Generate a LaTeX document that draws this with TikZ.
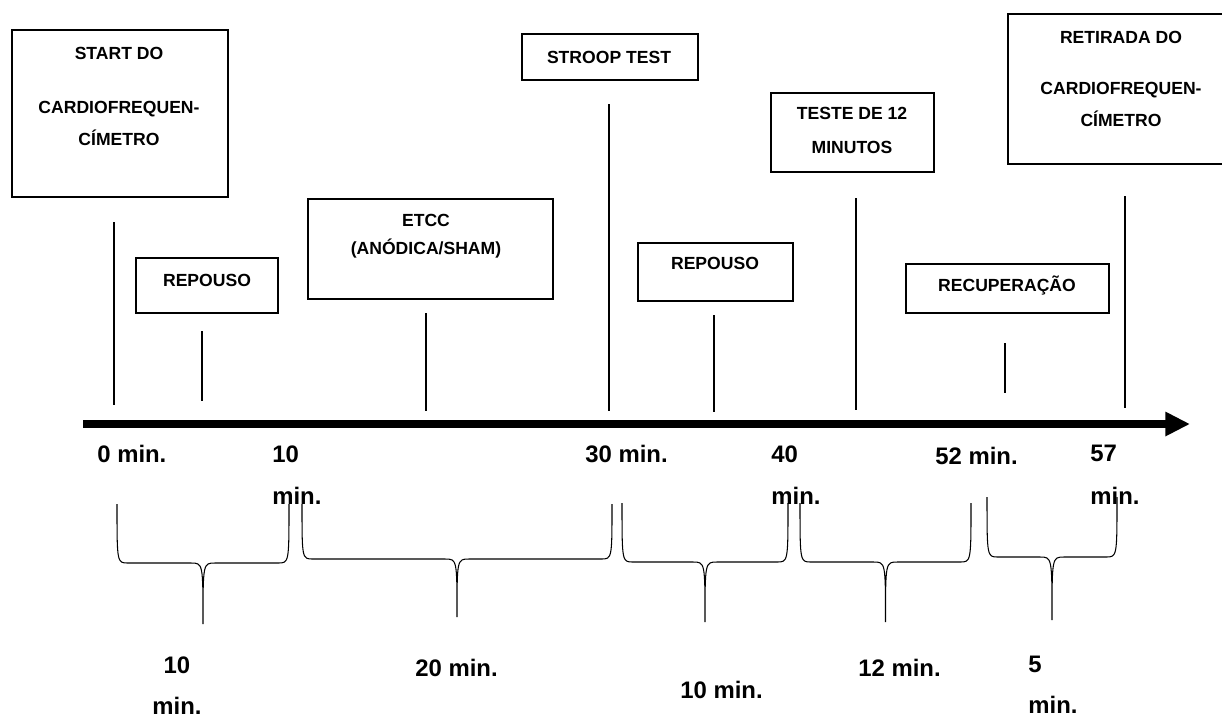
\documentclass[tikz,border=0pt]{standalone}
\usepackage{fontspec}
\setmainfont{Liberation Sans}
\usetikzlibrary{arrows.meta}
\tikzstyle{box} = [rectangle, draw=black, line width=1.1pt, inner sep=0pt, anchor=north west]
\tikzstyle{txt} = [inner sep=0pt, align=center, font=\fontsize{10}{18}\selectfont\bfseries]
\tikzstyle{tlabel} = [inner sep=0pt, font=\fontsize{13.6}{24.4}\selectfont\bfseries]
\tikzstyle{stem} = [line width=0.7pt]
\tikzstyle{brace} = [line width=0.6pt]
\tikzstyle{axis} = [line width=4.5pt, -{Triangle[length=14pt,width=13pt]}]

\begin{document}
\begin{tikzpicture}[x=0.02cm, y=-0.02cm]
		\useasboundingbox (0,0) rectangle (1222,718);
		\clip (0,0) rectangle (1222,718);
		% stage boxes
		\node[box, minimum width=4.32cm, minimum height=3.34cm](start) at (11,29) {};
		\node[box, minimum width=2.84cm, minimum height=1.10cm](rest1) at (135,257) {};
		\node[box, minimum width=4.90cm, minimum height=2.00cm](etcc) at (307,198) {};
		\node[box, minimum width=3.52cm, minimum height=0.92cm](stroop) at (521,33) {};
		\node[box, minimum width=3.10cm, minimum height=1.16cm](rest2) at (637,242) {};
		\node[box, minimum width=3.26cm, minimum height=1.58cm](test12) at (770,92) {};
		\node[box, minimum width=4.06cm, minimum height=0.98cm](recov) at (905,263) {};
		\node[box, minimum width=4.56cm, minimum height=3.00cm](removal) at (1007,13) {};
		% texts in the boxes
		\node[txt, anchor=north](start-t) at (119,46.5) {START DO\\[13.2pt]CARDIOFREQUEN-\\CÍMETRO};
		\node[txt, anchor=base](rest1-t) at (207,286) {REPOUSO};
		\node[txt, anchor=north](etcc-t) at (426,213.7) {ETCC\\[-2.1pt](ANÓDICA/SHAM)};
		\node[txt, anchor=base](stroop-t) at (609,63) {STROOP TEST};
		\node[txt, anchor=base](rest2-t) at (715,269) {REPOUSO};
		\node[txt, anchor=north](test12-t) at (852,107) {TESTE DE 12\\[1.3pt]MINUTOS};
		\node[txt, anchor=base](recov-t) at (1007,291) {RECUPERAÇÃO};
		\node[txt, anchor=north](removal-t) at (1121,31) {RETIRADA DO\\[10.9pt]CARDIOFREQUEN-\\CÍMETRO};
		% marks over the time axis
		\foreach \x/\ya/\yb in {114/222/405, 202/331/401, 426/313/411, 609/104/411, 714/315/412, 856/198/410, 1005/343/393, 1125/196/408}
			\draw[stem] (\x,\ya) -- (\x,\yb);
		% time axis
		\coordinate (t0) at (83,424);
		\coordinate (tend) at (1190,424);
		\draw[axis] (t0) -- (tend);
		% times
		\node[tlabel, anchor=base west](m0) at (97,462) {0 min.};
		\node[tlabel, anchor=north west, align=left](m10) at (272,445) {10\\min.};
		\node[tlabel, anchor=base west](m30) at (585,462) {30 min.};
		\node[tlabel, anchor=north west, align=left](m40) at (771,445) {40\\min.};
		\node[tlabel, anchor=base west](m52) at (935,464) {52 min.};
		\node[tlabel, anchor=north west, align=left](m57) at (1090,445) {57\\min.};
		% braces under the axis
		\foreach \xl/\xr/\yt/\yf/\yb in {117/289/504/563/624, 302/612/504/559/617, 622/788/503/562/622, 800/971/503/562/622, 987/1117/497/557/620}{
			\pgfmathsetmacro\xm{(\xl+\xr)/2}
			\draw[brace] (\xl,\yt) .. controls (\xl,\yf) and (\xl,\yf) .. (\xl+11,\yf) -- (\xm-12,\yf)
				.. controls (\xm,\yf) and (\xm,\yf) .. (\xm,\yb)
				.. controls (\xm,\yf) and (\xm,\yf) .. (\xm+12,\yf) -- (\xr-11,\yf)
				.. controls (\xr,\yf) and (\xr,\yf) .. (\xr,\yt);
		}
		% durations
		\node[tlabel, anchor=north, align=center](d1) at (177,656) {10\\[-1pt]min.};
		\node[tlabel, anchor=base west](d2) at (415,676) {20 min.};
		\node[tlabel, anchor=base west](d3) at (680,698) {10 min.};
		\node[tlabel, anchor=base west](d4) at (858,676) {12 min.};
		\node[tlabel, anchor=north west, align=left](d5) at (1028,656) {5\\[-1pt]min.};
\end{tikzpicture}
\end{document}
